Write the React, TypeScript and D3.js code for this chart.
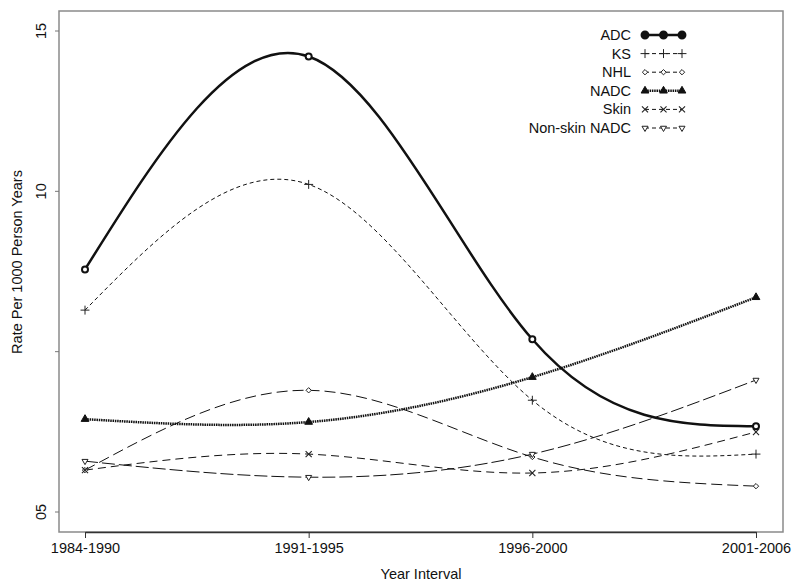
import React, { useEffect, useRef } from 'react';
import * as d3 from 'd3';

const intervals = ['1984-1990', '1991-1995', '1996-2000', '2001-2006'];
const adc = [7.55, 14.19, 5.37, 2.66];
const ks = [6.28, 10.2, 3.47, 1.79];
const nhl = [1.29, 3.78, 1.7, 0.79];
const nadc = [2.88, 2.79, 4.19, 6.68];
const skin = [1.29, 1.79, 1.2, 2.48];
const nonSkin = [1.57, 1.07, 1.79, 4.1];
const yTicks = [15, 10, 5, 0];
const yTickLabels = ['15', '10', '', '05'];

type Series = {
  name: string;
  values: number[];
  width: number;
  dash: string | null;
  marker: string;
};

const series: Series[] = [
  { name: 'ADC', values: adc, width: 2.5, dash: null, marker: 'circle' },
  { name: 'KS', values: ks, width: 1, dash: '4,3', marker: 'plus' },
  { name: 'NHL', values: nhl, width: 1, dash: '11,5', marker: 'diamond' },
  { name: 'NADC', values: nadc, width: 2.5, dash: '1.5,0.8', marker: 'triangle' },
  { name: 'Skin', values: skin, width: 1, dash: '8,5', marker: 'times' },
  { name: 'Non-skin NADC', values: nonSkin, width: 1, dash: '13,4', marker: 'down' },
];

const FONT = 'Liberation Sans, Arial, sans-serif';

function drawMarker(g: any, kind: string, x: number, y: number, legend: boolean) {
  const s = legend ? 1.15 : 1;
  if (kind === 'circle') {
    g.append('circle').attr('cx', x).attr('cy', y).attr('r', 3 * s)
      .attr('fill', legend ? '#111' : '#fff').attr('stroke', '#111').attr('stroke-width', 2);
  } else if (kind === 'plus') {
    g.append('path').attr('transform', `translate(${x},${y})`)
      .attr('d', d3.symbol(d3.symbolPlus, 28)()).attr('fill', 'none').attr('stroke', '#222').attr('stroke-width', 1);
  } else if (kind === 'times') {
    g.append('path').attr('transform', `translate(${x},${y})`)
      .attr('d', d3.symbol(d3.symbolTimes, 26)()).attr('fill', 'none').attr('stroke', '#222').attr('stroke-width', 1.1);
  } else if (kind === 'diamond') {
    g.append('path').attr('transform', `translate(${x},${y})`)
      .attr('d', d3.symbol(d3.symbolDiamond2, 18)()).attr('fill', '#fff').attr('stroke', '#222').attr('stroke-width', 1);
  } else if (kind === 'triangle') {
    g.append('path').attr('transform', `translate(${x},${y})`)
      .attr('d', d3.symbol(d3.symbolTriangle, 26)()).attr('fill', '#111').attr('stroke', '#111').attr('stroke-width', 1);
  } else if (kind === 'down') {
    g.append('path').attr('transform', `translate(${x},${y}) rotate(180)`)
      .attr('d', d3.symbol(d3.symbolTriangle2, 26)()).attr('fill', '#fff').attr('stroke', '#222').attr('stroke-width', 1);
  }
}

export default function App() {
  const ref = useRef<SVGSVGElement>(null);

  useEffect(() => {
    if (!ref.current) return;
    const svg = d3.select(ref.current);
    svg.selectAll('*').remove();

    const box = { left: 59, right: 783, top: 11, bottom: 532 };

    const x = d3.scalePoint<string>().domain(intervals).range([85, 756]);
    const y = d3.scaleLinear().domain([0, 15]).range([511.5, 30.5]);

    // plot frame
    svg.append('rect')
      .attr('x', box.left).attr('y', box.top)
      .attr('width', box.right - box.left).attr('height', box.bottom - box.top)
      .attr('fill', 'none').attr('stroke', '#8a8a8a').attr('stroke-width', 1.5);

    // x axis
    const xAxis = svg.append('g')
      .attr('transform', `translate(0,${box.bottom})`)
      .call(d3.axisBottom(x).tickSize(6).tickSizeOuter(0).tickPadding(5));
    xAxis.select('.domain').attr('stroke', '#333').attr('stroke-width', 1.3);
    xAxis.selectAll('.tick line').attr('stroke', '#333');
    xAxis.selectAll('.tick text')
      .attr('fill', '#111').style('font-family', FONT).style('font-size', '14.5px');

    // y axis
    const yAxis = svg.append('g')
      .attr('transform', `translate(${box.left},0)`)
      .call(d3.axisLeft(y).tickValues(yTicks).tickSize(4).tickFormat((_d, i) => yTickLabels[i]));
    yAxis.select('.domain').remove();
    yAxis.selectAll('.tick line').attr('stroke', '#777');
    yAxis.selectAll('.tick text')
      .attr('fill', '#111')
      .attr('x', null).attr('dy', null)
      .attr('text-anchor', 'middle')
      .attr('transform', 'translate(-13,0) rotate(-90)')
      .style('font-family', FONT).style('font-size', '14.5px');

    // axis titles
    svg.append('text')
      .attr('x', 421).attr('y', 579)
      .attr('text-anchor', 'middle')
      .style('font-family', FONT).style('font-size', '14.5px').attr('fill', '#111')
      .text('Year Interval');
    svg.append('text')
      .attr('transform', 'translate(22,262) rotate(-90)')
      .attr('text-anchor', 'middle')
      .style('font-family', FONT).style('font-size', '14.5px').attr('fill', '#111')
      .text('Rate Per 1000 Person Years');

    const line = d3.line<number>()
      .x((_d, i) => x(intervals[i])!)
      .y(d => y(d))
      .curve(d3.curveNatural);

    series.forEach(s => {
      svg.append('path')
        .attr('d', line(s.values))
        .attr('fill', 'none')
        .attr('stroke', '#111')
        .attr('stroke-width', s.width)
        .attr('stroke-dasharray', s.dash)
        .attr('stroke-linejoin', 'round');
    });
    series.forEach(s => {
      const g = svg.append('g');
      s.values.forEach((v, i) => drawMarker(g, s.marker, x(intervals[i])!, y(v), false));
    });

    // legend
    const legend = svg.append('g');
    const rowY = d3.scalePoint<string>().domain(series.map(s => s.name)).range([35, 128]);
    series.forEach(s => {
      const ry = rowY(s.name)!;
      legend.append('text')
        .attr('x', 631).attr('y', ry).attr('dy', '0.35em')
        .attr('text-anchor', 'end')
        .style('font-family', FONT).style('font-size', '14.5px').attr('fill', '#111')
        .text(s.name);
      legend.append('line')
        .attr('x1', 645).attr('x2', 682).attr('y1', ry).attr('y2', ry)
        .attr('stroke', '#111').attr('stroke-width', s.width)
        .attr('stroke-dasharray', s.dash === null ? null : s.name === 'NADC' ? s.dash : '4,3');
      [645, 663.5, 682].forEach(mx => drawMarker(legend, s.marker, mx, ry, true));
    });
  }, []);

  return (
    <svg
      ref={ref}
      width={800}
      height={588}
      style={{ position: 'absolute', left: 0, top: 0, background: '#fff' }}
    />
  );
}
